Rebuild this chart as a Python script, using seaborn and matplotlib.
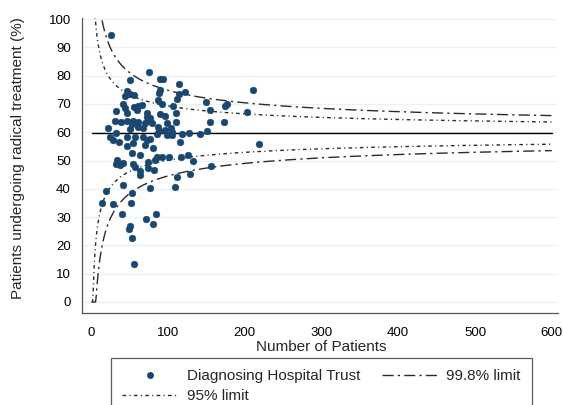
import numpy as np
import pandas as pd
import matplotlib
matplotlib.use("Agg")
import matplotlib.pyplot as plt
import seaborn as sns
from matplotlib.lines import Line2D

# Patients diagnosed per hospital trust, and the share receiving radical treatment (%)
patients = [
    25.7, 32.6, 42.3, 44.9, 44.9, 46.5, 31.3, 39.1, 22.5, 32.6, 24.7, 28.6, 36.5,
    33.9, 32.6, 37.8, 41.7, 19.1, 14.7, 29.0, 40.0, 42.1,
    50.8, 51.4, 56.6, 56.6, 61.6, 66.0, 59.5, 46.5, 46.5, 55.1, 53.8, 60.8, 50.8,
    61.6, 67.7, 70.3, 72.5, 74.6, 76.8, 79.0, 72.5, 46.5, 57.9, 68.1, 72.5, 54.7,
    47.5, 70.3, 76.8, 54.0, 63.8, 55.1, 57.3, 63.8, 63.8, 74.9, 74.6, 82.0, 53.0,
    52.1, 50.8, 49.9, 53.0, 56.4, 71.6, 76.8,
    75.9, 89.8, 94.1, 89.8, 88.2, 114.6, 122.4, 115.0, 111.6, 87.6, 92.4, 106.8,
    110.7, 89.8, 96.4, 99.3, 110.7, 87.6, 88.9, 97.0, 104.2, 105.1, 99.3, 105.1,
    85.5, 118.1, 127.9, 115.5, 81.1, 85.9, 92.1, 101.6, 117.2, 83.3, 111.6, 109.4,
    128.9, 126.0, 132.4, 84.6, 80.3,
    141.9, 151.0, 149.3, 155.6, 155.6, 173.2, 175.1, 177.7, 156.3, 202.5, 210.5,
    219.1,
]
radical_pct = [
    94.5, 67.6, 70.0, 68.6, 72.8, 74.7, 64.1, 63.7, 61.4, 59.6, 58.2, 57.1, 56.4,
    50.2, 48.8, 48.4, 49.3, 39.2, 35.1, 34.6, 31.0, 41.3,
    78.4, 73.7, 73.1, 68.9, 69.3, 69.6, 67.8, 66.7, 64.1, 64.1, 62.9, 63.7, 61.0,
    62.0, 61.5, 63.4, 65.5, 64.3, 64.9, 63.4, 66.7, 58.2, 58.4, 58.3, 57.2, 56.2,
    55.1, 55.5, 57.5, 52.7, 52.1, 48.6, 47.7, 46.3, 44.9, 49.6, 47.2, 46.5, 38.4,
    34.9, 26.9, 25.9, 22.5, 13.3, 29.2, 40.2,
    81.4, 79.0, 78.7, 74.9, 74.0, 77.0, 74.1, 73.4, 71.6, 71.5, 70.0, 69.3,
    66.9, 66.4, 65.9, 63.4, 63.6, 61.7, 60.5, 60.8, 61.4, 60.2, 59.0, 59.0,
    59.3, 59.5, 59.7, 56.4, 54.3, 51.1, 51.1, 51.2, 51.3, 50.2, 44.2, 40.6,
    45.1, 52.1, 49.9, 31.0, 27.6,
    59.4, 60.3, 70.7, 67.7, 63.6, 63.6, 69.3, 70.0, 48.1, 67.0, 74.9,
    55.7,
]
overall_pct = 59.7          # national proportion (%)
z_95, z_998 = 1.96, 3.09    # two-sided z for the 95% and 99.8% limits
x_ticks = [0, 100, 200, 300, 400, 500, 600]
y_ticks = [0, 10, 20, 30, 40, 50, 60, 70, 80, 90, 100]

sns.set_style("white")
plt.rcParams["font.family"] = ["Liberation Sans", "DejaVu Sans"]

navy = "#1A476F"
line_col = "#2a2a2a"

fig = plt.figure(figsize=(5.63, 4.05), dpi=100)
ax = fig.add_axes([0.1456, 0.2272, 0.8455, 0.7284])

# funnel limits around the overall proportion (lower limits floored at 0)
n_grid = np.arange(1, 601)
p = overall_pct / 100
se = np.sqrt(p * (1 - p) / n_grid) * 100
limits = pd.DataFrame({
    "n": n_grid,
    "mean": np.full(n_grid.shape, overall_pct),
    "up95": overall_pct + z_95 * se,
    "lo95": np.clip(overall_pct - z_95 * se, 0, None),
    "up998": overall_pct + z_998 * se,
    "lo998": np.clip(overall_pct - z_998 * se, 0, None),
})

dash_998 = (8, 3, 1.6, 3)
dash_95 = (2.6, 2.4, 0.8, 2.4)

sns.lineplot(data=limits, x="n", y="mean", color="black", lw=1.0, ax=ax)
for col, dash in [("up998", dash_998), ("lo998", dash_998),
                  ("up95", dash_95), ("lo95", dash_95)]:
    sns.lineplot(data=limits, x="n", y=col, color=line_col, lw=1.0, ax=ax)
    ax.lines[-1].set_dashes(dash)

trusts = pd.DataFrame({"patients": patients, "pct": radical_pct})
sns.scatterplot(data=trusts, x="patients", y="pct", color=navy, s=24,
                edgecolor=navy, linewidth=0.3, ax=ax, zorder=3)

ax.set_xlim(-11.7, 608)
ax.set_ylim(-3.9, 100.4)
ax.set_xticks(x_ticks)
ax.set_yticks(y_ticks)
ax.set_xticklabels([str(t) for t in x_ticks], fontsize=9.5)
ax.set_yticklabels([str(t) for t in y_ticks], fontsize=9.5)
ax.yaxis.grid(True, color="#EAF2F3", lw=0.9)
ax.xaxis.grid(False)
ax.set_axisbelow(True)

for side in ["top", "right"]:
    ax.spines[side].set_visible(False)
for side in ["left", "bottom"]:
    ax.spines[side].set_color("#555555")
    ax.spines[side].set_linewidth(0.9)
ax.tick_params(axis="both", which="major", length=4, width=0.8,
               color="#555555", direction="out", pad=4, labelcolor="black")
ax.tick_params(axis="x", pad=6)

ax.set_xlabel("Number of Patients", fontsize=11)
ax.set_ylabel("Patients undergoing radical treatment (%)", fontsize=11)
ax.xaxis.set_label_coords(0.502, -0.09)
ax.yaxis.set_label_coords(-0.12, 0.525)

handles = [
    Line2D([], [], marker="o", ls="none", color=navy, markersize=4),
    Line2D([], [], color=line_col, lw=1.0, dashes=dash_95),
    Line2D([], [], color=line_col, lw=1.0, dashes=dash_998),
]
labels = ["Diagnosing Hospital Trust", "95% limit", "99.8% limit"]
leg = fig.legend(handles, labels, ncol=2, loc="upper left",
                 bbox_to_anchor=(111 / 563, 0.0, 421 / 563, 1 - 358 / 405),
                 mode="expand", borderaxespad=0, fontsize=11,
                 frameon=True, fancybox=False, edgecolor="#333333",
                 handlelength=3.6, handletextpad=0.6, borderpad=0.75,
                 labelspacing=0.38, columnspacing=1.0)
leg.get_frame().set_linewidth(0.9)

fig.savefig("out.png", dpi=100, facecolor="white")
